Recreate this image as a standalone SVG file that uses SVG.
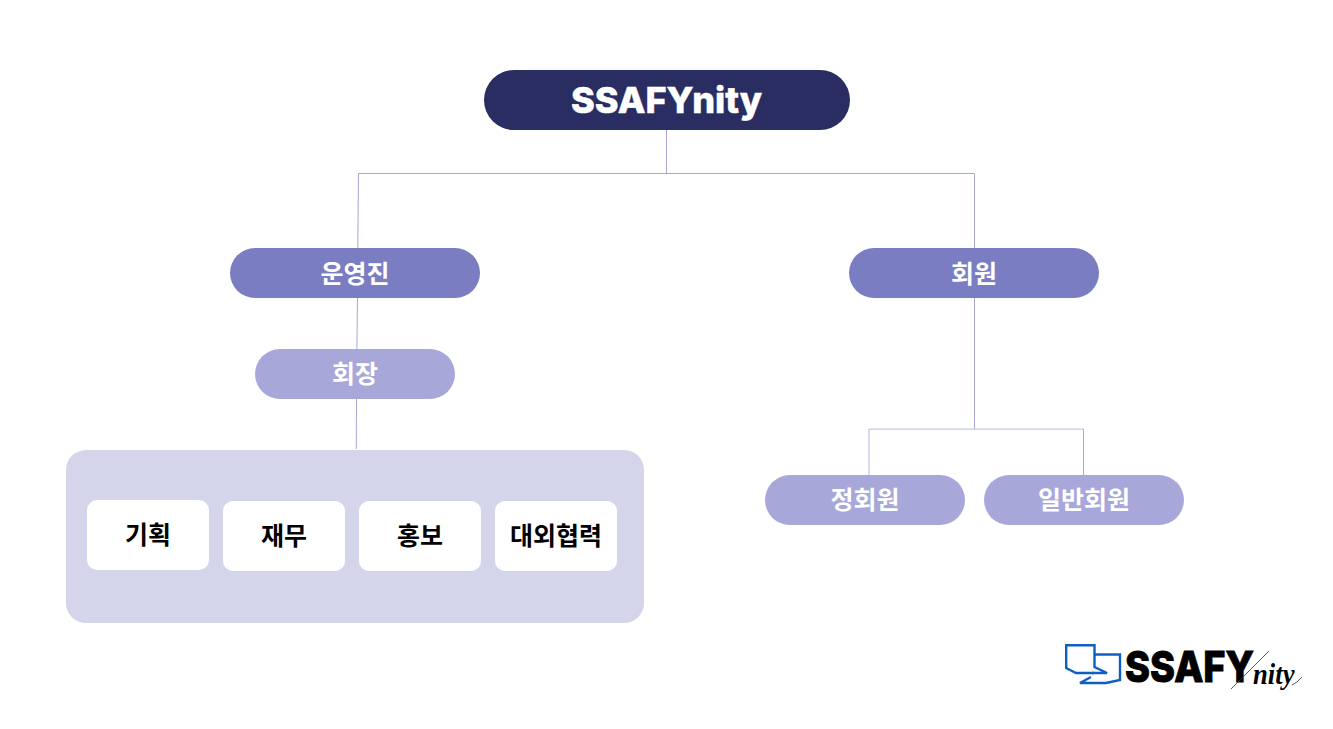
<svg xmlns="http://www.w3.org/2000/svg" width="1333" height="729" viewBox="0 0 1333 729">
<style>
.k{font-family:"Noto Sans CJK KR","Inter",sans-serif;font-weight:700;text-anchor:middle}
.w{fill:#fff;font-size:25px}
.b{fill:#000;font-size:25px}
.l{stroke:#a8a7d9;stroke-width:1;fill:none}
.m{fill:#7b7dc2}
.s{fill:#a7a7d9}
.c{fill:#fff}
.logo{fill:none;stroke:#0f5fc2;stroke-width:2.400}
</style>
<rect width="1333" height="729" fill="#fff"/>
<g id="connectors">
<path class="l" d="M666.500 130V173.500M358.500 173.500H974.500M358.500 173.500L357.800 248M974.500 173.500V248"/>
<path class="l" d="M357.500 298L356.900 349M356.500 399L356.300 449"/>
<path class="l" d="M974.500 298V429"/>
<path class="l" d="M869 429.200H1083.500M869 429V475" style="stroke:#c6c7e8;stroke-width:1.300"/>
<path class="l" d="M1083.500 429V475"/>
</g>
<g id="root"><rect x="484" y="70" width="366" height="60" rx="30" fill="#2a2d62"/>
<text x="666.500" y="113" text-anchor="middle" style="font-family:Inter,sans-serif;font-weight:800;font-size:36px;fill:#fff;stroke:#fff;stroke-width:0.500">SSAFYnity</text></g>
<g id="staff"><rect class="m" x="230" y="248" width="250" height="50" rx="25"/><text class="k w" x="355" y="282.500">운영진</text></g>
<g id="member"><rect class="m" x="849" y="248" width="250" height="50" rx="25"/><text class="k w" x="974" y="282.500">회원</text></g>
<g id="president"><rect class="s" x="255" y="349" width="200" height="50" rx="25"/><text class="k w" x="355" y="382.500">회장</text></g>
<g id="regular"><rect class="s" x="765" y="475" width="200" height="50" rx="25"/><text class="k w" x="865" y="508.500">정회원</text></g>
<g id="general"><rect class="s" x="984" y="475" width="200" height="50" rx="25"/><text class="k w" x="1084" y="508.500">일반회원</text></g>
<g id="departments"><rect x="66" y="450" width="578" height="173" rx="20" fill="#d4d5ea"/></g>
<g id="planning"><rect class="c" x="87" y="500" width="122" height="70" rx="10"/><text class="k b" x="148" y="543.700">기획</text></g>
<g id="finance"><rect class="c" x="223" y="501" width="122" height="70" rx="10"/><text class="k b" x="284" y="544.700">재무</text></g>
<g id="pr"><rect class="c" x="359" y="501" width="122" height="70" rx="10"/><text class="k b" x="420" y="544.700">홍보</text></g>
<g id="external"><rect class="c" x="495" y="501" width="122" height="70" rx="10"/><text class="k b" x="556" y="544.700">대외협력</text></g>
<g id="logo">
<path class="logo" d="M1094.500 654V645.200H1066.200V668L1076 673H1094"/>
<path class="logo" d="M1094.500 654.500H1120V680L1106 683H1080L1091 677"/>
<path class="logo" d="M1094.500 654V667L1107 673H1092"/>
<text transform="translate(1125 682) scale(0.88 1)" style="font-family:Inter,sans-serif;font-weight:800;font-size:43px;fill:#000;stroke:#000;stroke-width:1">SSAFY</text>
<path d="M1269 651L1231 689" stroke="#333" stroke-width="0.800" fill="none"/>
<text transform="translate(1253 684) scale(0.92 1)" style="font-family:'Liberation Serif',serif;font-style:italic;font-weight:700;font-size:29px;fill:#000">nity</text>
<path d="M1292 685Q1297 683 1302 677" stroke="#333" stroke-width="0.800" fill="none"/>
</g>
</svg>
